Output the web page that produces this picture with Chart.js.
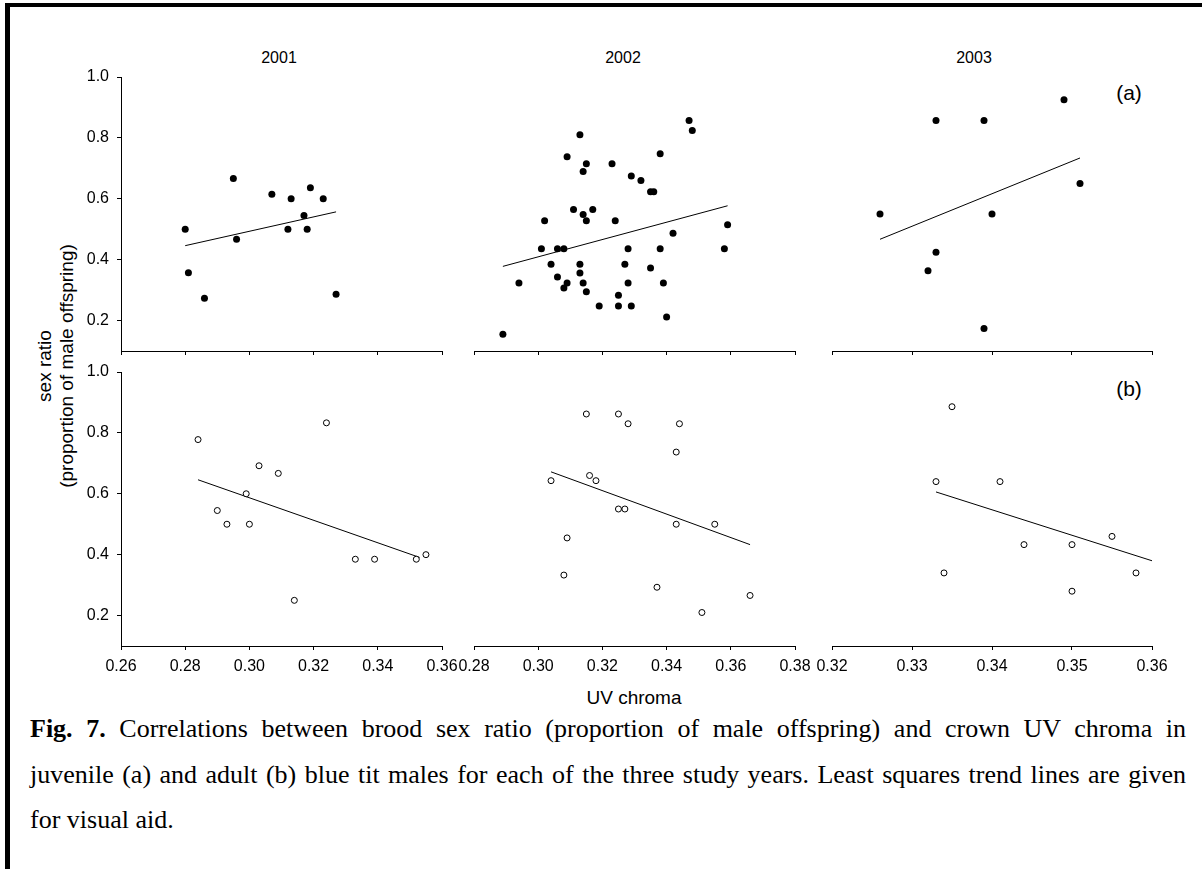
<!DOCTYPE html>
<html>
<head>
<meta charset="utf-8">
<script src="https://cdn.jsdelivr.net/npm/chart.js@4.4.1/dist/chart.umd.min.js"></script>
<style>
  body { margin: 0; background: #fff; }
  #fig { position: relative; width: 1202px; height: 869px; overflow: hidden; font-family: "Liberation Sans", Arial, sans-serif; color: #000; }
  .bar { position: absolute; background: #000; }
  canvas { position: absolute; }
  .lbl { position: absolute; transform: translate(-50%, -50%); white-space: nowrap; line-height: 1; }
  #ytitle { position: absolute; left: 56px; top: 366px; transform: translate(-50%, -50%) rotate(-90deg); text-align: center; font-size: 19px; line-height: 22px; white-space: nowrap; }
  #caption { position: absolute; left: 30px; top: 706px; width: 1156px; font-family: "Liberation Serif", "Times New Roman", serif; font-size: 26px; line-height: 45.5px; }
  #caption .j { text-align: justify; text-align-last: justify; }
</style>
</head>
<body>
<div id="fig">
  <div class="bar" style="left:5px; top:3px; width:1197px; height:4px;"></div>
  <div class="bar" style="left:5px; top:3px; width:5px; height:866px;"></div>

  <div class="lbl" style="left:279px; top:58px; font-size:16px;">2001</div>
  <div class="lbl" style="left:623px; top:58px; font-size:16px;">2002</div>
  <div class="lbl" style="left:974px; top:58px; font-size:16px;">2003</div>
  <div class="lbl" style="left:1129px; top:92px; font-size:21px;">(a)</div>
  <div class="lbl" style="left:1129px; top:388px; font-size:21px;">(b)</div>

  <div id="ytitle">sex ratio<br>(proportion of male offspring)</div>
  <div class="lbl" style="left:634px; top:697px; font-size:19px;">UV chroma</div>

  <div id="caption">
    <div class="j"><b>Fig. 7.</b> Correlations between brood sex ratio (proportion of male offspring) and crown UV chroma in</div>
    <div class="j">juvenile (a) and adult (b) blue tit males for each of the three study years. Least squares trend lines are given</div>
    <div>for visual aid.</div>
  </div>
</div>

<script>
// axis ticks
const yTicks = [0.2, 0.4, 0.6, 0.8, 1.0];
const xTicks2001 = [0.26, 0.28, 0.30, 0.32, 0.34, 0.36];
const xTicks2002 = [0.28, 0.30, 0.32, 0.34, 0.36, 0.38];
const xTicks2003 = [0.32, 0.33, 0.34, 0.35, 0.36];

// (a) juvenile males
const juv2001Chroma = [0.280, 0.281, 0.286, 0.295, 0.296, 0.307, 0.312, 0.313, 0.317, 0.318, 0.319, 0.323, 0.327];
const juv2001Ratio  = [0.500, 0.357, 0.273, 0.667, 0.467, 0.615, 0.500, 0.600, 0.545, 0.500, 0.636, 0.600, 0.286];
const juv2001TrendX = [0.280, 0.327];
const juv2001TrendY = [0.446, 0.557];

const juv2002Chroma = [0.289, 0.294, 0.301, 0.302, 0.304, 0.306, 0.306, 0.308, 0.308, 0.309, 0.309, 0.311, 0.313, 0.313, 0.313,
                       0.314, 0.314, 0.314, 0.315, 0.315, 0.315, 0.317, 0.319, 0.323, 0.324, 0.325, 0.325, 0.327, 0.328, 0.328,
                       0.329, 0.329, 0.332, 0.335, 0.336, 0.335, 0.338, 0.338, 0.339, 0.340, 0.342, 0.347, 0.348, 0.358, 0.359];
const juv2002Ratio  = [0.155, 0.323, 0.436, 0.528, 0.385, 0.436, 0.343, 0.436, 0.307, 0.738, 0.323, 0.565, 0.810, 0.385, 0.356,
                       0.690, 0.548, 0.323, 0.715, 0.528, 0.295, 0.565, 0.248, 0.715, 0.528, 0.283, 0.248, 0.385, 0.436, 0.323,
                       0.675, 0.248, 0.660, 0.623, 0.623, 0.373, 0.748, 0.436, 0.323, 0.212, 0.487, 0.857, 0.824, 0.436, 0.515];
const juv2002TrendX = [0.289, 0.359];
const juv2002TrendY = [0.378, 0.577];

const juv2003Chroma = [0.326, 0.332, 0.333, 0.333, 0.339, 0.339, 0.340, 0.349, 0.351];
const juv2003Ratio  = [0.550, 0.364, 0.857, 0.424, 0.857, 0.174, 0.550, 0.925, 0.650];
const juv2003TrendX = [0.326, 0.351];
const juv2003TrendY = [0.467, 0.734];

// (b) adult males
const ad2001Chroma = [0.284, 0.290, 0.293, 0.299, 0.300, 0.303, 0.309, 0.314, 0.324, 0.333, 0.339, 0.352, 0.355];
const ad2001Ratio  = [0.778, 0.545, 0.500, 0.600, 0.500, 0.692, 0.667, 0.250, 0.833, 0.385, 0.385, 0.385, 0.400];
const ad2001TrendX = [0.284, 0.353];
const ad2001TrendY = [0.646, 0.391];

const ad2002Chroma = [0.304, 0.308, 0.309, 0.315, 0.316, 0.318, 0.325, 0.325, 0.327, 0.328, 0.337, 0.343, 0.343, 0.344, 0.351, 0.355, 0.366];
const ad2002Ratio  = [0.643, 0.333, 0.455, 0.862, 0.660, 0.643, 0.862, 0.550, 0.550, 0.830, 0.293, 0.737, 0.500, 0.830, 0.210, 0.500, 0.266];
const ad2002TrendX = [0.304, 0.366];
const ad2002TrendY = [0.672, 0.433];

const ad2003Chroma = [0.333, 0.334, 0.335, 0.341, 0.344, 0.350, 0.350, 0.355, 0.358];
const ad2003Ratio  = [0.640, 0.340, 0.886, 0.640, 0.433, 0.433, 0.280, 0.460, 0.340];
const ad2003TrendX = [0.333, 0.360];
const ad2003TrendY = [0.606, 0.380];

// room around each plot area for axes
const PAD_L = 60, PAD_R = 25, PAD_T = 40, PAD_B = 40;
const PLOT_H = 274;

Chart.defaults.font.family = '"Liberation Sans", Arial, sans-serif';
Chart.defaults.color = '#000';

const panels = [
  {left: 121, top: 77,  width: 321, xMin: 0.26, xMax: 0.36, xTicks: xTicks2001, chroma: juv2001Chroma, ratio: juv2001Ratio, trendX: juv2001TrendX, trendY: juv2001TrendY, open: false, yAxis: true,  xLabels: false},
  {left: 474, top: 77,  width: 321, xMin: 0.28, xMax: 0.38, xTicks: xTicks2002, chroma: juv2002Chroma, ratio: juv2002Ratio, trendX: juv2002TrendX, trendY: juv2002TrendY, open: false, yAxis: false, xLabels: false},
  {left: 832, top: 77,  width: 320, xMin: 0.32, xMax: 0.36, xTicks: xTicks2003, chroma: juv2003Chroma, ratio: juv2003Ratio, trendX: juv2003TrendX, trendY: juv2003TrendY, open: false, yAxis: false, xLabels: false},
  {left: 121, top: 372, width: 321, xMin: 0.26, xMax: 0.36, xTicks: xTicks2001, chroma: ad2001Chroma,  ratio: ad2001Ratio,  trendX: ad2001TrendX,  trendY: ad2001TrendY,  open: true,  yAxis: true,  xLabels: true},
  {left: 474, top: 372, width: 321, xMin: 0.28, xMax: 0.38, xTicks: xTicks2002, chroma: ad2002Chroma,  ratio: ad2002Ratio,  trendX: ad2002TrendX,  trendY: ad2002TrendY,  open: true,  yAxis: false, xLabels: true},
  {left: 832, top: 372, width: 320, xMin: 0.32, xMax: 0.36, xTicks: xTicks2003, chroma: ad2003Chroma,  ratio: ad2003Ratio,  trendX: ad2003TrendX,  trendY: ad2003TrendY,  open: true,  yAxis: false, xLabels: true}
];

function drawPanel(p) {
  const canvas = document.createElement('canvas');
  canvas.width = p.width + PAD_L + PAD_R;
  canvas.height = PLOT_H + PAD_T + PAD_B;
  canvas.style.left = (p.left - PAD_L) + 'px';
  canvas.style.top = (p.top - PAD_T) + 'px';
  document.getElementById('fig').appendChild(canvas);

  const points = p.chroma.map((x, i) => ({x: x, y: p.ratio[i]}));
  const trend = p.trendX.map((x, i) => ({x: x, y: p.trendY[i]}));

  new Chart(canvas.getContext('2d'), {
    type: 'scatter',
    data: {
      datasets: [
        {
          data: points,
          pointRadius: p.open ? 3 : 3.5,
          borderWidth: p.open ? 1 : 0,
          backgroundColor: p.open ? '#fff' : '#000',
          borderColor: '#000'
        },
        {
          data: trend,
          showLine: true,
          borderColor: '#000',
          borderWidth: 1,
          pointRadius: 0
        }
      ]
    },
    options: {
      responsive: false,
      animation: false,
      devicePixelRatio: 1,
      events: [],
      layout: {padding: {top: PAD_T, right: PAD_R, left: 0, bottom: 0}},
      plugins: {legend: {display: false}, tooltip: {enabled: false}},
      scales: {
        x: {
          type: 'linear',
          min: p.xMin,
          max: p.xMax,
          afterBuildTicks: s => { s.ticks = p.xTicks.map(v => ({value: v})); },
          afterFit: s => { s.height = PAD_B; },
          border: {display: true, color: '#000', width: 1},
          grid: {display: true, drawOnChartArea: false, drawTicks: true, tickLength: 4, color: '#000'},
          ticks: {
            display: p.xLabels, autoSkip: false, maxRotation: 0, padding: 7,
            font: {size: 16},
            callback: v => v.toFixed(2)
          }
        },
        y: {
          type: 'linear',
          min: 0.1,
          max: 1.0,
          afterBuildTicks: s => { s.ticks = yTicks.map(v => ({value: v})); },
          afterFit: s => { s.width = PAD_L; },
          border: {display: p.yAxis, color: '#000', width: 1},
          grid: {display: p.yAxis, drawOnChartArea: false, drawTicks: true, tickLength: 4, color: '#000'},
          ticks: {
            display: p.yAxis, padding: 8,
            font: {size: 16},
            callback: v => v.toFixed(1)
          }
        }
      }
    }
  });
}

panels.forEach(drawPanel);
</script>
</body>
</html>
